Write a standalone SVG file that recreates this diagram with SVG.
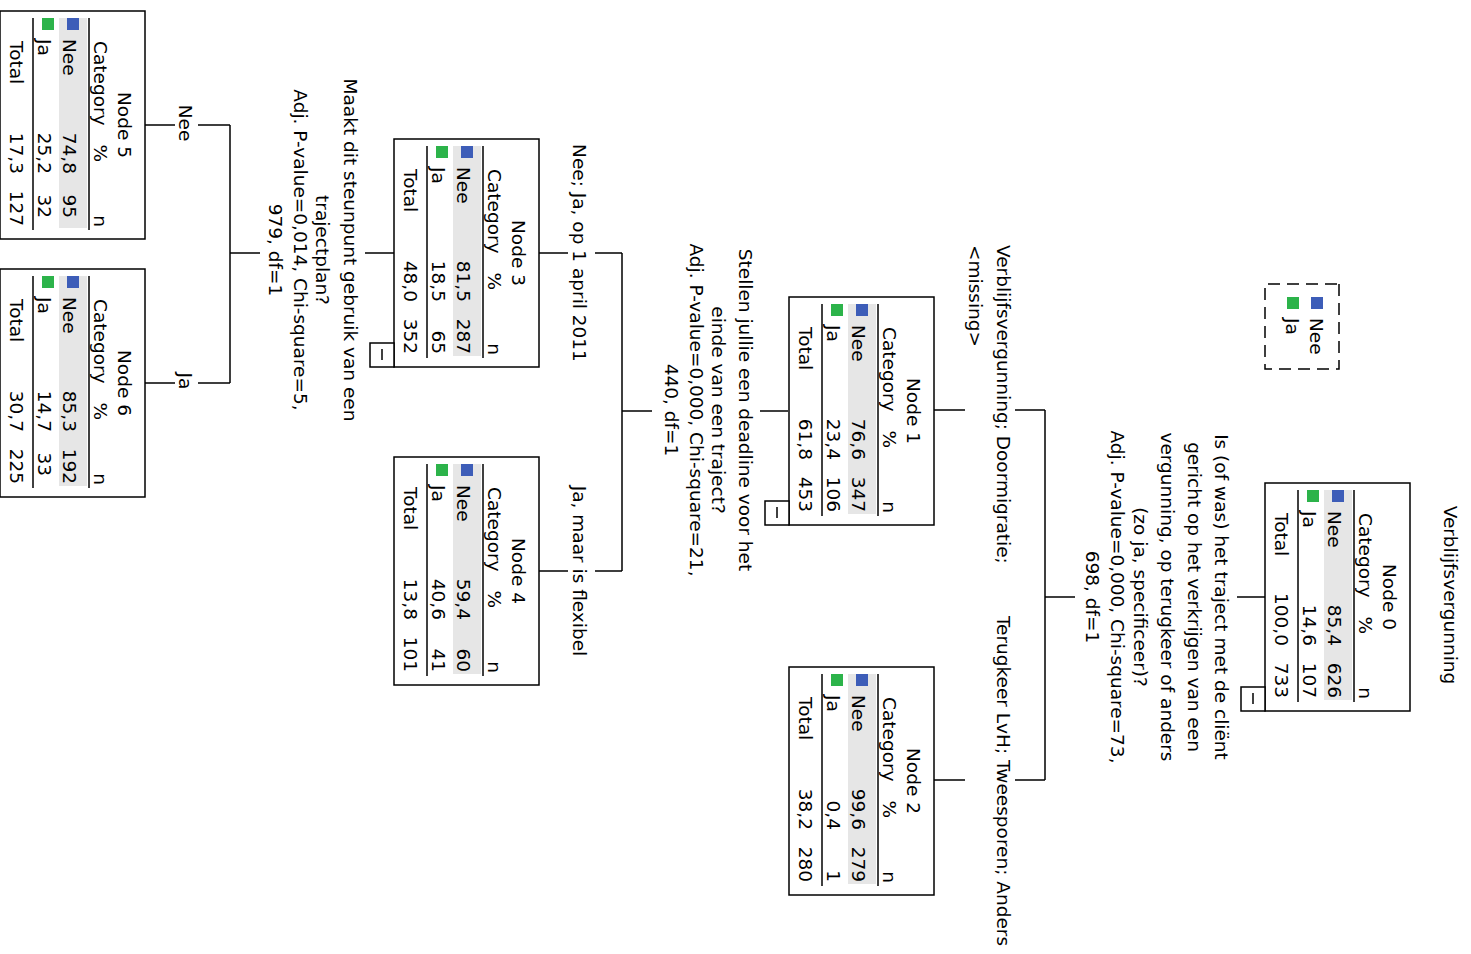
<svg xmlns="http://www.w3.org/2000/svg" width="1471" height="954" viewBox="0 0 1471 954">
<style>
text { font-family: "DejaVu Sans", "Liberation Sans", sans-serif; font-size: 18.5px; fill: #000; }
.m { text-anchor: middle; }
.e { text-anchor: end; }
.box { fill: #fff; stroke: #000; stroke-width: 1.5; }
.ln { stroke: #000; stroke-width: 1.5; fill: none; }
.band { fill: #e6e6e6; }
.nee { fill: #3d5db8; }
.ja { fill: #2cb34a; }
</style>
<rect width="1471" height="954" fill="#fff"/>
<g transform="matrix(0,1,-1,0,1471,0)">
  <text class="m" x="595" y="27">Verblijfsvergunning</text>

  <g id="legend">
    <rect x="284" y="132" width="85" height="74" fill="none" stroke="#000" stroke-width="1.5" stroke-dasharray="12,7"/>
    <rect class="nee" x="297" y="148" width="12" height="12"/>
    <text x="318" y="161">Nee</text>
    <rect class="ja" x="297" y="172" width="12" height="12"/>
    <text x="318" y="185">Ja</text>
  </g>

  <g id="connectors" class="ln">
    <path d="M597,206V234M597,396V426M410,426H780M410,426V456M410,506V537M780,426V456M780,506V537"/>
    <path d="M411,683V711M411,819V849M253,849H571M253,849V876M253,903V932M571,849V876M571,903V932"/>
    <path d="M253,1077V1106M253,1211V1241M125,1241H383M125,1241V1273M125,1296V1326M383,1241V1273M383,1296V1326"/>
  </g>

  <g id="labels">
    <text class="m" x="597" y="256">Is (of was) het traject met de cliënt</text>
    <text class="m" x="597" y="283">gericht op het verkrijgen van een</text>
    <text class="m" x="597" y="310">vergunning, op terugkeer of anders</text>
    <text class="m" x="597" y="337">(zo ja, specificeer)?</text>
    <text class="m" x="597" y="360">Adj. P-value=0,000, Chi-square=73,</text>
    <text class="m" x="597" y="385">698, df=1</text>

    <text x="245" y="474">Verblijfsvergunning; Doormigratie;</text>
    <text x="245" y="502">&lt;missing&gt;</text>
    <text class="m" x="781" y="474">Terugkeer LvH; Tweesporen; Anders</text>

    <text class="m" x="410" y="732">Stellen jullie een deadline voor het</text>
    <text class="m" x="410" y="759">einde van een traject?</text>
    <text class="m" x="410" y="781">Adj. P-value=0,000, Chi-square=21,</text>
    <text class="m" x="410" y="806">440, df=1</text>

    <text class="m" x="253" y="898">Nee; Ja, op 1 april 2011</text>
    <text class="m" x="571" y="898">Ja, maar is flexibel</text>

    <text class="m" x="250" y="1127">Maakt dit steunpunt gebruik van een</text>
    <text class="m" x="250" y="1155">trajectplan?</text>
    <text class="m" x="250" y="1177">Adj. P-value=0,014, Chi-square=5,</text>
    <text class="m" x="250" y="1202">979, df=1</text>

    <text class="m" x="123" y="1292">Nee</text>
    <text class="m" x="381" y="1292">Ja</text>
  </g>

  <g id="node0" transform="translate(483,61)">
    <rect class="box" width="228" height="145"/>
    <text class="m" x="114" y="27">Node 0</text>
    <text x="30" y="51">Category</text><text class="e" x="151" y="51">%</text><text class="e" x="216" y="51">n</text>
    <line class="ln" x1="7" y1="56" x2="219" y2="56"/>
    <rect class="band" x="7" y="58" width="210" height="28"/>
    <rect class="nee" x="7" y="66" width="12" height="12"/>
    <text x="28" y="82">Nee</text><text class="e" x="163" y="82">85,4</text><text class="e" x="215" y="82">626</text>
    <rect class="ja" x="7" y="91" width="12" height="12"/>
    <text x="28" y="107">Ja</text><text class="e" x="163" y="107">14,6</text><text class="e" x="215" y="107">107</text>
    <line class="ln" x1="7" y1="112" x2="219" y2="112"/>
    <text x="30" y="135">Total</text><text class="e" x="163" y="135">100,0</text><text class="e" x="215" y="135">733</text>
    <rect class="box" x="204" y="145" width="24" height="24"/><line class="ln" x1="210" y1="157" x2="221" y2="157"/>
  </g>

  <g id="node1" transform="translate(297,537)">
    <rect class="box" width="228" height="145"/>
    <text class="m" x="114" y="27">Node 1</text>
    <text x="30" y="51">Category</text><text class="e" x="151" y="51">%</text><text class="e" x="216" y="51">n</text>
    <line class="ln" x1="7" y1="56" x2="219" y2="56"/>
    <rect class="band" x="7" y="58" width="210" height="28"/>
    <rect class="nee" x="7" y="66" width="12" height="12"/>
    <text x="28" y="82">Nee</text><text class="e" x="163" y="82">76,6</text><text class="e" x="215" y="82">347</text>
    <rect class="ja" x="7" y="91" width="12" height="12"/>
    <text x="28" y="107">Ja</text><text class="e" x="163" y="107">23,4</text><text class="e" x="215" y="107">106</text>
    <line class="ln" x1="7" y1="112" x2="219" y2="112"/>
    <text x="30" y="135">Total</text><text class="e" x="163" y="135">61,8</text><text class="e" x="215" y="135">453</text>
    <rect class="box" x="204" y="145" width="24" height="24"/><line class="ln" x1="210" y1="157" x2="221" y2="157"/>
  </g>

  <g id="node2" transform="translate(667,537)">
    <rect class="box" width="228" height="145"/>
    <text class="m" x="114" y="27">Node 2</text>
    <text x="30" y="51">Category</text><text class="e" x="151" y="51">%</text><text class="e" x="216" y="51">n</text>
    <line class="ln" x1="7" y1="56" x2="219" y2="56"/>
    <rect class="band" x="7" y="58" width="210" height="28"/>
    <rect class="nee" x="7" y="66" width="12" height="12"/>
    <text x="28" y="82">Nee</text><text class="e" x="163" y="82">99,6</text><text class="e" x="215" y="82">279</text>
    <rect class="ja" x="7" y="91" width="12" height="12"/>
    <text x="28" y="107">Ja</text><text class="e" x="163" y="107">0,4</text><text class="e" x="215" y="107">1</text>
    <line class="ln" x1="7" y1="112" x2="219" y2="112"/>
    <text x="30" y="135">Total</text><text class="e" x="163" y="135">38,2</text><text class="e" x="215" y="135">280</text>
  </g>

  <g id="node3" transform="translate(139,932)">
    <rect class="box" width="228" height="145"/>
    <text class="m" x="114" y="27">Node 3</text>
    <text x="30" y="51">Category</text><text class="e" x="151" y="51">%</text><text class="e" x="216" y="51">n</text>
    <line class="ln" x1="7" y1="56" x2="219" y2="56"/>
    <rect class="band" x="7" y="58" width="210" height="28"/>
    <rect class="nee" x="7" y="66" width="12" height="12"/>
    <text x="28" y="82">Nee</text><text class="e" x="163" y="82">81,5</text><text class="e" x="215" y="82">287</text>
    <rect class="ja" x="7" y="91" width="12" height="12"/>
    <text x="28" y="107">Ja</text><text class="e" x="163" y="107">18,5</text><text class="e" x="215" y="107">65</text>
    <line class="ln" x1="7" y1="112" x2="219" y2="112"/>
    <text x="30" y="135">Total</text><text class="e" x="163" y="135">48,0</text><text class="e" x="215" y="135">352</text>
    <rect class="box" x="204" y="145" width="24" height="24"/><line class="ln" x1="210" y1="157" x2="221" y2="157"/>
  </g>

  <g id="node4" transform="translate(457,932)">
    <rect class="box" width="228" height="145"/>
    <text class="m" x="114" y="27">Node 4</text>
    <text x="30" y="51">Category</text><text class="e" x="151" y="51">%</text><text class="e" x="216" y="51">n</text>
    <line class="ln" x1="7" y1="56" x2="219" y2="56"/>
    <rect class="band" x="7" y="58" width="210" height="28"/>
    <rect class="nee" x="7" y="66" width="12" height="12"/>
    <text x="28" y="82">Nee</text><text class="e" x="163" y="82">59,4</text><text class="e" x="215" y="82">60</text>
    <rect class="ja" x="7" y="91" width="12" height="12"/>
    <text x="28" y="107">Ja</text><text class="e" x="163" y="107">40,6</text><text class="e" x="215" y="107">41</text>
    <line class="ln" x1="7" y1="112" x2="219" y2="112"/>
    <text x="30" y="135">Total</text><text class="e" x="163" y="135">13,8</text><text class="e" x="215" y="135">101</text>
  </g>

  <g id="node5" transform="translate(11,1326)">
    <rect class="box" width="228" height="145"/>
    <text class="m" x="114" y="27">Node 5</text>
    <text x="30" y="51">Category</text><text class="e" x="151" y="51">%</text><text class="e" x="216" y="51">n</text>
    <line class="ln" x1="7" y1="56" x2="219" y2="56"/>
    <rect class="band" x="7" y="58" width="210" height="28"/>
    <rect class="nee" x="7" y="66" width="12" height="12"/>
    <text x="28" y="82">Nee</text><text class="e" x="163" y="82">74,8</text><text class="e" x="207" y="82">95</text>
    <rect class="ja" x="7" y="91" width="12" height="12"/>
    <text x="28" y="107">Ja</text><text class="e" x="163" y="107">25,2</text><text class="e" x="207" y="107">32</text>
    <line class="ln" x1="7" y1="112" x2="219" y2="112"/>
    <text x="30" y="135">Total</text><text class="e" x="163" y="135">17,3</text><text class="e" x="215" y="135">127</text>
  </g>

  <g id="node6" transform="translate(269,1326)">
    <rect class="box" width="228" height="145"/>
    <text class="m" x="114" y="27">Node 6</text>
    <text x="30" y="51">Category</text><text class="e" x="151" y="51">%</text><text class="e" x="216" y="51">n</text>
    <line class="ln" x1="7" y1="56" x2="219" y2="56"/>
    <rect class="band" x="7" y="58" width="210" height="28"/>
    <rect class="nee" x="7" y="66" width="12" height="12"/>
    <text x="28" y="82">Nee</text><text class="e" x="163" y="82">85,3</text><text class="e" x="215" y="82">192</text>
    <rect class="ja" x="7" y="91" width="12" height="12"/>
    <text x="28" y="107">Ja</text><text class="e" x="163" y="107">14,7</text><text class="e" x="207" y="107">33</text>
    <line class="ln" x1="7" y1="112" x2="219" y2="112"/>
    <text x="30" y="135">Total</text><text class="e" x="163" y="135">30,7</text><text class="e" x="215" y="135">225</text>
  </g>
</g>
</svg>
